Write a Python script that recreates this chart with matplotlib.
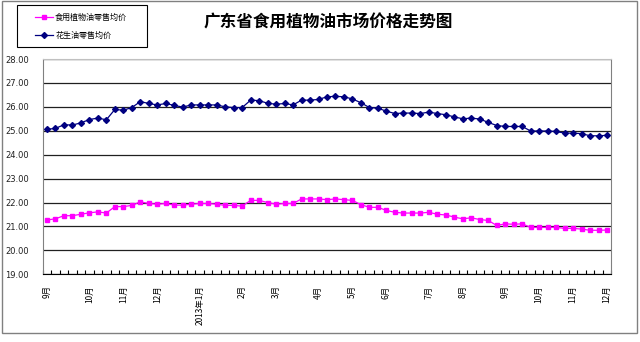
import numpy as np
import matplotlib
matplotlib.use('agg')
import matplotlib.pyplot as plt
from matplotlib.patches import Rectangle

plt.rcParams['font.family'] = ['Noto Sans CJK SC', 'DejaVu Sans']

# weekly retail prices (yuan), Sep 2012 - Dec 2013
peanut = [25.06, 25.10, 25.25, 25.24, 25.33, 25.47, 25.53, 25.46, 25.89, 25.86,
          25.97, 26.22, 26.14, 26.08, 26.14, 26.06, 25.99, 26.08, 26.08, 26.08,
          26.08, 26.00, 25.97, 25.97, 26.28, 26.26, 26.15, 26.11, 26.14, 26.08,
          26.28, 26.28, 26.31, 26.42, 26.44, 26.42, 26.33, 26.17, 25.97, 25.94,
          25.82, 25.72, 25.74, 25.74, 25.72, 25.78, 25.72, 25.67, 25.58, 25.50,
          25.53, 25.49, 25.35, 25.22, 25.18, 25.18, 25.18, 24.99, 24.99, 24.99,
          24.97, 24.90, 24.90, 24.88, 24.79, 24.79, 24.81]
veg_oil = [21.27, 21.32, 21.45, 21.45, 21.51, 21.57, 21.61, 21.56, 21.83, 21.83,
           21.88, 22.03, 21.96, 21.93, 21.96, 21.89, 21.89, 21.93, 21.96, 21.96,
           21.93, 21.88, 21.88, 21.85, 22.09, 22.09, 22.00, 21.93, 21.96, 21.96,
           22.15, 22.15, 22.15, 22.12, 22.15, 22.12, 22.09, 21.91, 21.80, 21.80,
           21.67, 21.59, 21.56, 21.56, 21.56, 21.59, 21.51, 21.48, 21.39, 21.32,
           21.36, 21.29, 21.25, 21.04, 21.11, 21.09, 21.11, 20.96, 20.96, 20.96,
           20.96, 20.92, 20.92, 20.89, 20.84, 20.84, 20.85]

# first week of each month and its label
month_idx = [0, 5, 9, 13, 18, 23, 27, 32, 36, 40, 45, 49, 54, 58, 62, 66]
month_lbl = ['9月', '10月', '11月', '12月', '2013年1月', '2月', '3月', '4月',
             '5月', '6月', '7月', '8月', '9月', '10月', '11月', '12月']

W, H = 640, 342
fig = plt.figure(figsize=(6.4, 3.42), dpi=100)
ax = fig.add_axes([42.7 / W, 1 - 274.3 / H, (611.3 - 42.7) / W, (274.3 - 59) / H])

x = np.arange(len(peanut))
l1, = ax.plot(x, veg_oil, color='#ff00ff', lw=0.9, marker='s', ms=3.5,
              label='食用植物油零售均价')
l2, = ax.plot(x, peanut, color='#000080', lw=0.9, marker='D', ms=3.0,
              label='花生油零售均价')

ax.set_xlim(-0.5, len(peanut) - 0.5)
ax.set_ylim(19, 28)
ax.set_yticks(np.arange(19, 29, 1))
ax.set_yticklabels(['%.2f' % v for v in np.arange(19, 29, 1)],
                   family='DejaVu Sans', fontsize=6, color='#202020')
ax.grid(axis='y', color='#202020', lw=0.9)
ax.set_axisbelow(True)
ax.tick_params(axis='y', length=0, pad=10)

ax.set_xticks(month_idx)
ax.set_xticklabels(month_lbl, rotation=90, fontsize=6, va='top', ha='center')
ax.set_xticks(np.arange(len(peanut) + 1) - 0.5, minor=True)
ax.tick_params(axis='x', which='major', length=0, pad=8)
ax.tick_params(axis='x', which='minor', direction='in', length=3, width=0.8)

ax.spines['left'].set_color('#808080')
ax.spines['right'].set_color('#808080')
ax.spines['top'].set_color('#c0c0c0')
ax.spines['bottom'].set_color('black')

fig.text(328 / W, 1 - 23 / H, '广东省食用植物油市场价格走势图', fontsize=12,
         fontweight='bold', ha='center', va='center')

# legend box and entries
fig.patches.append(Rectangle((17 / W, 1 - 47 / H), 130 / W, 42 / H,
                             transform=fig.transFigure, fill=False,
                             edgecolor='black', lw=0.8))
fig.legend(handles=[l1, l2], loc='upper left', bbox_to_anchor=(35 / W, 1 - 13 / H),
           frameon=False, fontsize=5.8, handlelength=2.2, handletextpad=0.3,
           labelspacing=1.1, borderpad=0, borderaxespad=0, numpoints=1)

# outer chart border
fig.patches.append(Rectangle((2 / W, 9 / H), 635 / W, 332 / H,
                             transform=fig.transFigure, fill=False,
                             edgecolor='#808080', lw=1))

fig.savefig('out.png', dpi=100)
